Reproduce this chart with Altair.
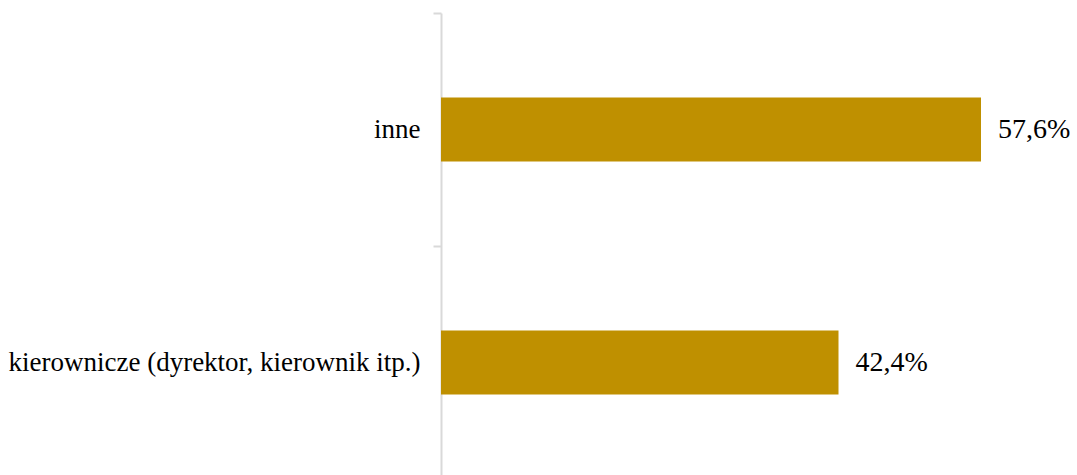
import altair as alt
import pandas as pd

categories = ["inne", "kierownicze (dyrektor, kierownik itp.)"]
values = [57.6, 42.4]
labels = ["57,6%", "42,4%"]

df = pd.DataFrame({"kategoria": categories, "udzial": values, "etykieta": labels})

serif = "Times New Roman, Liberation Serif, DejaVu Serif, serif"

y_enc = alt.Y(
    "kategoria:N",
    sort=categories,
    title=None,
    scale=alt.Scale(paddingInner=0, paddingOuter=0),
    axis=alt.Axis(
        labelFont=serif,
        labelFontSize=27,
        labelColor="#000000",
        labelPadding=13,
        tickSize=8,
        tickColor="#D9D9D9",
        tickWidth=2,
        domainColor="#D9D9D9",
        domainWidth=2,
        bandPosition=0,
        grid=False,
        labelLimit=600,
    ),
)

x_enc = alt.X(
    "udzial:Q",
    title=None,
    scale=alt.Scale(domain=[0, 64], nice=False),
    axis=None,
)

bars = alt.Chart(df).mark_bar(color="#BF9000", height=64).encode(x=x_enc, y=y_enc)

text = alt.Chart(df).mark_text(
    align="left",
    baseline="middle",
    dx=17,
    font=serif,
    fontSize=28,
    color="#000000",
).encode(x=x_enc, y=y_enc, text="etykieta:N")

chart = (
    alt.layer(bars, text)
    .properties(
        width=600,
        height=466,
        autosize=alt.AutoSizeParams(type="none"),
        padding={"left": 441, "top": 13, "right": 36, "bottom": 0},
    )
    .configure(background="#FFFFFF")
    .configure_view(strokeWidth=0, stroke=None)
)

chart.save("out.html", embed_options={"renderer": "svg", "actions": False})
